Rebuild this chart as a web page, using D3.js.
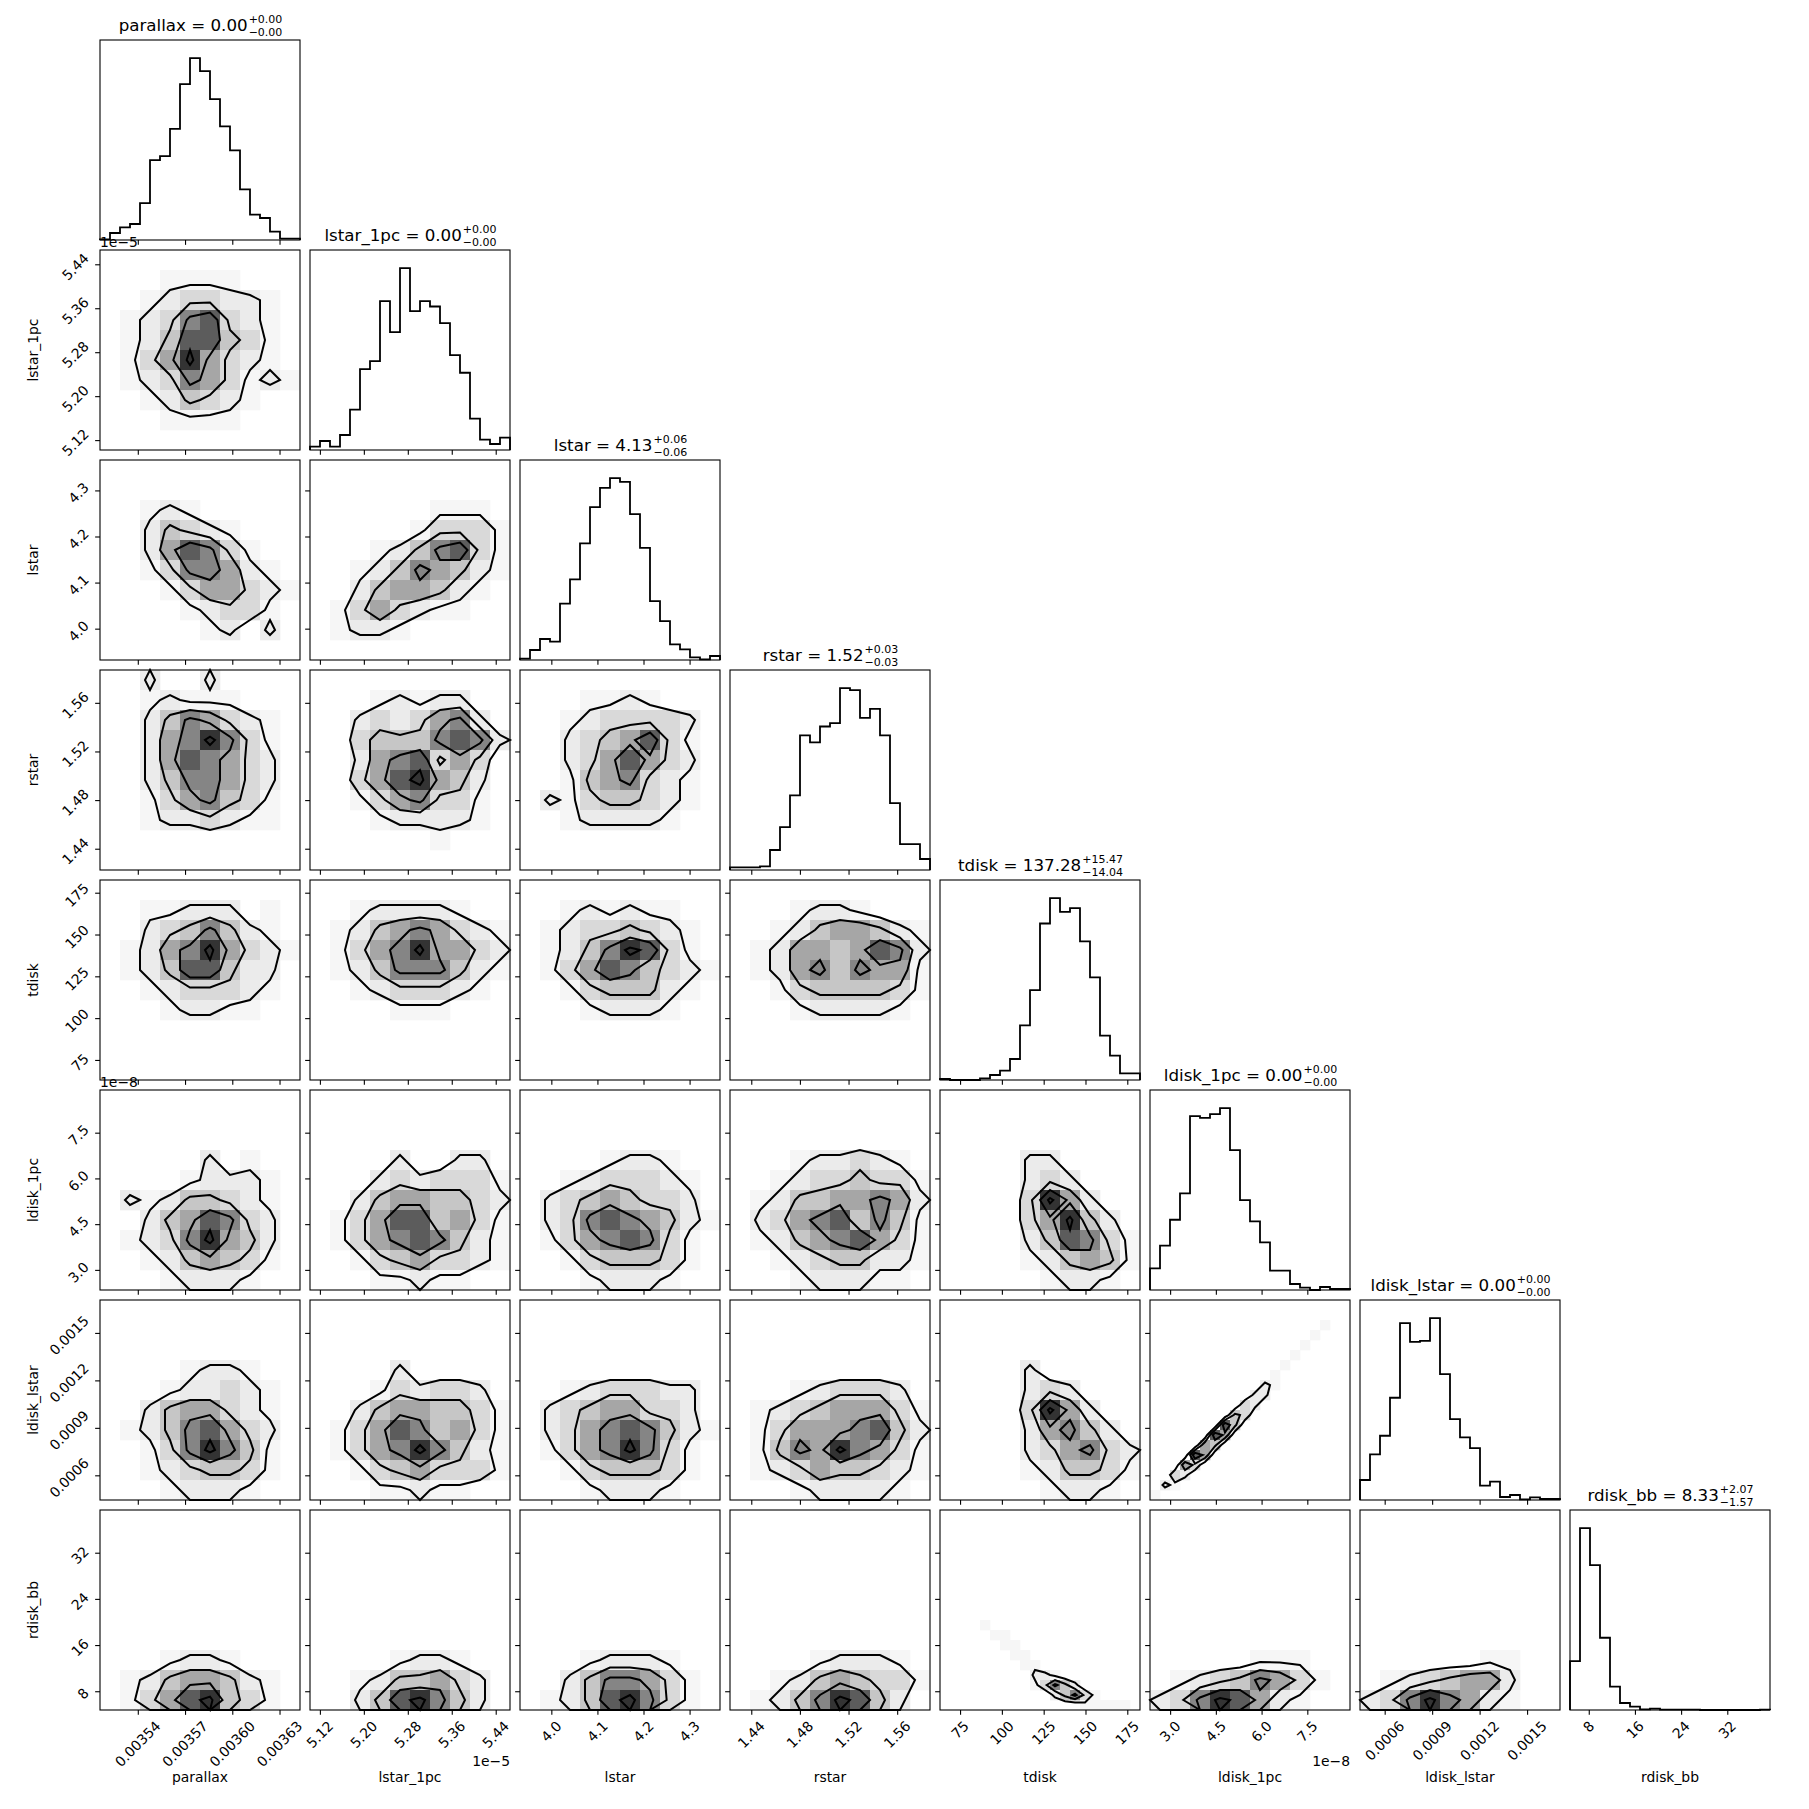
<!DOCTYPE html>
<html>
<head>
<meta charset="utf-8">
<script src="https://cdn.jsdelivr.net/npm/d3@7"></script>
<style>
body { margin: 0; background: #fff; }
text { font-family: "DejaVu Sans", sans-serif; fill: #000; }
</style>
</head>
<body>
<svg id="fig" width="1809" height="1809"></svg>
<script>
// variables of the corner plot
const labels = ["parallax", "lstar_1pc", "lstar", "rstar", "tdisk", "ldisk_1pc", "ldisk_lstar", "rdisk_bb"]
const titleMain = ["parallax = 0.00", "lstar_1pc = 0.00", "lstar = 4.13", "rstar = 1.52", "tdisk = 137.28", "ldisk_1pc = 0.00", "ldisk_lstar = 0.00", "rdisk_bb = 8.33"]
const titleUp = ["+0.00", "+0.00", "+0.06", "+0.03", "+15.47", "+0.00", "+0.00", "+2.07"]
const titleDown = ["−0.00", "−0.00", "−0.06", "−0.03", "−14.04", "−0.00", "−0.00", "−1.57"]
// axis ranges (lstar_1pc in 1e-5, ldisk_1pc in 1e-8)
const rangeLo = [0.003516, 5.102, 3.932, 1.4225, 63.0, 2.34, 0.000444, 4.75]
const rangeHi = [0.003643, 5.466, 4.366, 1.587, 182.6, 8.90, 0.001708, 39.4]
const tickVals = [
    [0.00354, 0.00357, 0.00360, 0.00363],
    [5.12, 5.20, 5.28, 5.36, 5.44],
    [4.0, 4.1, 4.2, 4.3],
    [1.44, 1.48, 1.52, 1.56],
    [75, 100, 125, 150, 175],
    [3.0, 4.5, 6.0, 7.5],
    [0.0006, 0.0009, 0.0012, 0.0015],
    [8, 16, 24, 32]
]
const tickText = [
    ["0.00354", "0.00357", "0.00360", "0.00363"],
    ["5.12", "5.20", "5.28", "5.36", "5.44"],
    ["4.0", "4.1", "4.2", "4.3"],
    ["1.44", "1.48", "1.52", "1.56"],
    ["75", "100", "125", "150", "175"],
    ["3.0", "4.5", "6.0", "7.5"],
    ["0.0006", "0.0009", "0.0012", "0.0015"],
    ["8", "16", "24", "32"]
]
const offsetText = ["", "1e−5", "", "", "", "1e−8", "", ""]

// 1d histograms, 20 bins each (counts)
const histParallax = [2, 21, 38, 48, 111, 240, 252, 334, 468, 546, 507, 423, 341, 269, 152, 76, 66, 25, 4, 4]
const histLstar1pc = [10, 27, 10, 45, 121, 243, 267, 447, 354, 546, 417, 447, 431, 381, 285, 232, 94, 31, 18, 37]
const histLstar = [4, 30, 63, 55, 169, 242, 350, 459, 517, 546, 535, 438, 337, 177, 117, 47, 32, 8, 2, 12]
const histRstar = [8, 8, 8, 11, 60, 129, 224, 404, 383, 431, 441, 546, 540, 457, 484, 404, 201, 78, 78, 33]
const histTdisk = [3, 0, 0, 0, 5, 15, 28, 63, 164, 270, 470, 546, 505, 516, 416, 308, 133, 73, 20, 20]
const histLdisk1pc = [65, 133, 211, 290, 522, 517, 528, 546, 420, 270, 206, 143, 58, 58, 18, 7, 0, 9, 3, 3]
const histLdiskLstar = [60, 137, 193, 307, 531, 475, 478, 546, 378, 243, 188, 156, 43, 55, 9, 15, 2, 8, 3, 3]
const histRdisk = [147, 546, 435, 217, 70, 21, 10, 2, 4, 1, 1, 1, 1, 0, 0, 0, 0, 0, 0, 1]
const hists = [histParallax, histLstar1pc, histLstar, histRstar, histTdisk, histLdisk1pc, histLdiskLstar, histRdisk]

// 2d densities, rows top -> bottom, 0..9
const d_1_0 = ["0000000000","0001111000","0012332210","0123673210","0124774310","0135853210","0123653121","0012432100","0001111000","0000000000"]
const d_2_0 = ["0000000000","0000000000","0012100000","0024321000","0025763100","0013665210","0001355321","0000123310","0000012020","0000000000"]
const d_2_1 = ["0000000000","0000000000","0000001110","0000013331","0001246731","0012465421","0024554210","0135321100","0122100000","0000000000"]
const d_3_0 = ["0020020000","0012111000","0024653210","0025686310","0025765320","0024665320","0013564310","0012232110","0000000000","0000000000"]
const d_3_1 = ["0000000000","0001212200","0023235620","0034446762","0025673530","0035785420","0013563310","0001222210","0000001000","0000000000"]
const d_3_2 = ["0000000000","0001121000","0012333320","0023457310","0023575320","0014563210","0213443210","0012222100","0000000000","0000000000"]
const d_4_0 = ["0000000000","0011222010","0023464210","0125685321","0124774220","0012333210","0001221100","0000000000","0000000000","0000000000"]
const d_4_1 = ["0000000000","0012222100","0124565321","0135685532","0124666421","0012333210","0000111000","0000000000","0000000000","0000000000"]
const d_4_2 = ["0000000000","0012121100","0123343210","0124687310","0135764321","0013444210","0001222100","0000000000","0000000000","0000000000"]
const d_4_3 = ["0000000000","0001221000","0012455421","0125545762","0125646551","0013444431","0001222210","0000000000","0000000000","0000000000"]
const d_5_0 = ["0000000000","0000000000","0000000000","0000020100","0000122210","0212443210","0024576320","0123685420","0012454310","0001222100"]
const d_5_1 = ["0000000000","0000000000","0000000000","0000200220","0002323331","0024554432","0135774531","0135676421","0013453321","0001121100"]
const d_5_2 = ["0000000000","0000000000","0000000000","0000122100","0012333210","0234543320","0236765421","0135676310","0013444310","0001222100"]
const d_5_3 = ["0000000000","0000000000","0000000000","0001223210","0012334331","0124455652","0235674641","0124567531","0012344221","0001222110"]
const d_5_4 = ["0000000000","0000000000","0000000000","0000220000","0000232000","0000385200","0000358420","0000247631","0000124541","0000012210"]
const d_6_0 = ["0000000000","0000000000","0000000000","0000122100","0001223210","0024553210","0124675320","0013686410","0012344310","0001222100"]
const d_6_1 = ["0000000000","0000000000","0000000000","0000200000","0001323320","0024554431","0135764531","0135686421","0013453331","0001121100"]
const d_6_2 = ["0000000000","0000000000","0000000000","0000000000","0012333220","0234553320","0235676421","0135686310","0013444310","0001222100"]
const d_6_3 = ["0000000000","0000000000","0000000000","0000000000","0001233320","0123455531","0135556742","0146586531","0123544321","0001222210"]
const d_6_4 = ["0000000000","0000000000","0000000000","0000200000","0000232000","0000385200","0000256420","0000235632","0000124431","0000012210"]
const d_6_5 = [
    "00000000000000000000",
    "00000000000000000000",
    "00000000000000000100",
    "00000000000000001000",
    "00000000000000010000",
    "00000000000000100000",
    "00000000000001000000",
    "00000000000010000000",
    "00000000000210000000",
    "00000000002200000000",
    "00000000032000000000",
    "00000000430000000000",
    "00000007400000000000",
    "00000075000000000000",
    "00000540000000000000",
    "00007500000000000000",
    "00053000000000000000",
    "00320000000000000000",
    "02100000000000000000",
    "10000000000000000000"
]
const d_7_0 = ["0000000000","0000000000","0000000000","0000000000","0000000000","0000000000","0000000000","0001221000","0124554210","0135784310"]
const d_7_1 = ["0000000000","0000000000","0000000000","0000000000","0000000000","0000000000","0000000000","0000122100","0012445320","0024786420"]
const d_7_2 = ["0000000000","0000000000","0000000000","0000000000","0000000000","0000000000","0000000000","0001222100","0024665310","0124786310"]
const d_7_3 = ["0000000000","0000000000","0000000000","0000000000","0000000000","0000000000","0000000000","0000122210","0012454331","0124687420"]
const d_7_4 = [
    "00000000000000000000",
    "00000000000000000000",
    "00000000000000000000",
    "00000000000000000000",
    "00000000000000000000",
    "00000000000000000000",
    "00000000000000000000",
    "00000000000000000000",
    "00000000000000000000",
    "00000000000000000000",
    "00000000000000000000",
    "00001000000000000000",
    "00000110000000000000",
    "00000011000000000000",
    "00000001100000000000",
    "00000000110000000000",
    "00000000022100000000",
    "00000000013642000000",
    "00000000000246310000",
    "00000000000000111110"
]
const d_7_5 = ["0000000000","0000000000","0000000000","0000000000","0000000000","0000000000","0000000000","0000011100","0123465310","2368752100"]
const d_7_6 = ["0000000000","0000000000","0000000000","0000000000","0000000000","0000000000","0000000000","0000001100","0123455200","2368652100"]

const pairs = [
    [1, 0, d_1_0],
    [2, 0, d_2_0], [2, 1, d_2_1],
    [3, 0, d_3_0], [3, 1, d_3_1], [3, 2, d_3_2],
    [4, 0, d_4_0], [4, 1, d_4_1], [4, 2, d_4_2], [4, 3, d_4_3],
    [5, 0, d_5_0], [5, 1, d_5_1], [5, 2, d_5_2], [5, 3, d_5_3], [5, 4, d_5_4],
    [6, 0, d_6_0], [6, 1, d_6_1], [6, 2, d_6_2], [6, 3, d_6_3], [6, 4, d_6_4], [6, 5, d_6_5],
    [7, 0, d_7_0], [7, 1, d_7_1], [7, 2, d_7_2], [7, 3, d_7_3], [7, 4, d_7_4], [7, 5, d_7_5], [7, 6, d_7_6]
]
const levels = [1.5, 3.5, 5.5, 7.5]

// layout
const LEFT = 100, TOP = 40, SIZE = 200, STEP = 210, N = 8
const FS = 13.9, TICK = 4.86, PAD = 4.86
const svg = d3.select("#fig")
svg.append("rect").attr("width", 1809).attr("height", 1809).attr("fill", "#fff")

let xs = [], ys = []
for (let k = 0; k < N; k++) {
    xs.push(d3.scaleLinear().domain([rangeLo[k], rangeHi[k]]).range([0, SIZE]))
    ys.push(d3.scaleLinear().domain([rangeLo[k], rangeHi[k]]).range([SIZE, 0]))
}
const gray = d3.scaleLinear()
    .domain([0, 1, 2, 4, 6, 9])
    .range(["#ffffff", "#f6f6f6", "#ebebeb", "#c6c6c6", "#858585", "#0a0a0a"])

function panel(col, row) {
    return svg.append("g").attr("transform", `translate(${LEFT + col * STEP},${TOP + row * STEP})`)
}

function frame(g) {
    g.append("rect").attr("width", SIZE).attr("height", SIZE)
        .attr("fill", "none").attr("stroke", "#000").attr("stroke-width", 1.1)
}

function xTicks(g, k) {
    let ax = g.append("g").attr("transform", `translate(0,${SIZE})`)
        .call(d3.axisBottom(xs[k]).tickValues(tickVals[k]).tickSize(TICK).tickFormat(() => ""))
    ax.select(".domain").remove()
    ax.selectAll("line").attr("stroke-width", 1.1)
}

function yTicks(g, k) {
    let ax = g.append("g")
        .call(d3.axisLeft(ys[k]).tickValues(tickVals[k]).tickSize(TICK).tickFormat(() => ""))
    ax.select(".domain").remove()
    ax.selectAll("line").attr("stroke-width", 1.1)
}

// rotated tick label whose bounding box sits below (x) or left of (y) the tick
function rotLabel(g, str, x, y, side) {
    let t = g.append("text").attr("font-size", FS).attr("text-anchor", "middle")
        .attr("dy", "0.35em").text(str)
    let w = t.node().getComputedTextLength()
    let b = (w + 0.8 * FS) * Math.SQRT1_2
    let tx = side == "x" ? x : x - b / 2
    let ty = side == "x" ? y + b / 2 : y + 2.5
    t.attr("transform", `translate(${tx},${ty}) rotate(-45)`)
}

// diagonal histograms
for (let k = 0; k < N; k++) {
    let g = panel(k, k)
    let h = hists[k]
    let edges = d3.range(h.length + 1).map(i => rangeLo[k] + i * (rangeHi[k] - rangeLo[k]) / h.length)
    let hy = d3.scaleLinear().domain([0, d3.max(h) * 1.1]).range([SIZE, 0])
    let pts = [[edges[0], 0]]
    h.forEach((v, i) => { pts.push([edges[i], v]); pts.push([edges[i + 1], v]) })
    pts.push([edges[h.length], 0])
    g.append("path")
        .attr("d", d3.line().x(d => xs[k](d[0])).y(d => hy(d[1]))(pts))
        .attr("fill", "none").attr("stroke", "#000").attr("stroke-width", 1.8)
    xTicks(g, k)
    frame(g)

    // title with stacked +/- errors
    let tg = svg.append("g")
    let base = TOP + k * STEP - 9.5
    let main = tg.append("text").attr("font-size", 16.7).text(titleMain[k])
    let up = tg.append("text").attr("font-size", 11).text(titleUp[k])
    let dn = tg.append("text").attr("font-size", 11).text(titleDown[k])
    let wm = main.node().getComputedTextLength()
    let ws = Math.max(up.node().getComputedTextLength(), dn.node().getComputedTextLength())
    let x0 = LEFT + k * STEP + SIZE / 2 - (wm + ws) / 2
    main.attr("x", x0).attr("y", base)
    up.attr("x", x0 + wm + 1).attr("y", base - 8)
    dn.attr("x", x0 + wm + 1).attr("y", base + 5)
}

// 2d panels: density cells and contour lines
pairs.forEach(([row, col, grid]) => {
    let g = panel(col, row)
    let ny = grid.length, nx = grid[0].length
    let gx = d3.scaleLinear().domain([0, nx]).range([0, SIZE])
    let gy = d3.scaleLinear().domain([0, ny]).range([0, SIZE])
    let values = []
    grid.forEach(s => { for (let c = 0; c < nx; c++) values.push(+s[c]) })

    let cells = values.map((v, i) => ({ c: i % nx, r: Math.floor(i / nx), v: v })).filter(d => d.v > 0)
    g.append("g").selectAll("rect").data(cells).enter().append("rect")
        .attr("x", d => gx(d.c)).attr("y", d => gy(d.r))
        .attr("width", gx(1) - gx(0) + 0.3).attr("height", gy(1) - gy(0) + 0.3)
        .attr("fill", d => gray(d.v))

    let proj = d3.geoTransform({ point: function (x, y) { this.stream.point(gx(x), gy(y)) } })
    let path = d3.geoPath(proj)
    let contours = d3.contours().size([nx, ny]).thresholds(levels)(values)
    g.append("g").selectAll("path").data(contours).enter().append("path")
        .attr("d", path)
        .attr("fill", "none").attr("stroke", "#000").attr("stroke-width", 2)
        .attr("stroke-linejoin", "miter")

    xTicks(g, col)
    yTicks(g, row)
    frame(g)
})

// tick labels on the outer edges
const bottomY = TOP + 7 * STEP + SIZE
for (let k = 0; k < N; k++) {
    let x0 = LEFT + k * STEP
    tickVals[k].forEach((v, i) => rotLabel(svg, tickText[k][i], x0 + xs[k](v), bottomY + TICK + PAD, "x"))
    svg.append("text").attr("font-size", FS).attr("text-anchor", "middle")
        .attr("x", x0 + SIZE / 2).attr("y", bottomY + 72).text(labels[k])
    if (offsetText[k]) {
        svg.append("text").attr("font-size", FS).attr("text-anchor", "end")
            .attr("x", x0 + SIZE).attr("y", bottomY + 56).text(offsetText[k])
    }
}
for (let k = 1; k < N; k++) {
    let y0 = TOP + k * STEP
    tickVals[k].forEach((v, i) => rotLabel(svg, tickText[k][i], LEFT - TICK - PAD, y0 + ys[k](v), "y"))
    svg.append("text").attr("font-size", FS).attr("text-anchor", "middle")
        .attr("transform", `translate(38,${y0 + SIZE / 2}) rotate(-90)`).text(labels[k])
    if (offsetText[k]) {
        svg.append("text").attr("font-size", FS).attr("x", LEFT).attr("y", y0 - 3).text(offsetText[k])
    }
}
</script>
</body>
</html>
